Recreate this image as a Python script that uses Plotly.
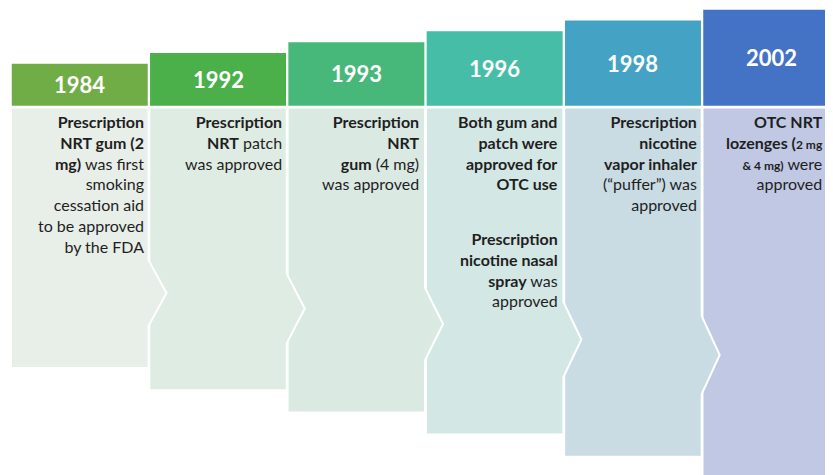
import plotly.graph_objects as go

# timeline data
years = ["1984", "1992", "1993", "1996", "1998", "2002"]
events = [
    "<b>Prescription</b><br><b>NRT gum (2</b><br><b>mg)</b> was first<br>smoking<br>cessation aid<br>to be approved<br>by the FDA",
    "<b>Prescription</b><br><b>NRT</b> patch<br>was approved",
    "<b>Prescription</b><br><b>NRT</b><br><b>gum</b> (4 mg)<br>was approved",
    "<b>Both gum and</b><br><b>patch were</b><br><b>approved for</b><br><b>OTC use</b>",
    "<b>Prescription</b><br><b>nicotine</b><br><b>vapor inhaler</b><br>(“puffer”) was<br>approved",
    "<b>OTC NRT</b><br><b>lozenges (<span style='font-size:12px'>2 mg</span></b><br><b><span style='font-size:12px'>&amp; 4 mg)</span></b> were<br>approved",
]
extra_events = {3: "<b>Prescription</b><br><b>nicotine nasal</b><br><b>spray</b> was<br>approved"}

header_colors = ["#70AD47", "#4BB04A", "#47B879", "#46BDA6", "#44A2C4", "#4472C4"]
body_colors = ["#E8EEE8", "#DFECE3", "#DBE9E3", "#D3E7E5", "#C9DBE3", "#C0C8E4"]

W, H = 833, 475
OFF = 8  # page body margin, figure starts at (8, 8)
fig = go.Figure()

step = 138.3
pw = 137.5
shapes = []
annotations = []

for i in reversed(range(len(years))):
    left = 11 + step * i
    right = left + pw
    htop = 63 - 10.8 * i
    hbot = 106.5
    btop = 107.5
    bbot = 368 + 22.2 * i
    cy = 293 + 15.5 * i
    hh = 33 + 1.5 * i

    shapes.append(dict(
        type="rect", x0=left, x1=right, y0=htop, y1=hbot,
        fillcolor=header_colors[i], line=dict(color="white", width=1.5), layer="above",
    ))
    if i < len(years) - 1:
        path = (f"M {left},{btop} L {right},{btop} L {right},{cy - hh} L {right + 18},{cy} "
                f"L {right},{cy + hh} L {right},{bbot} L {left},{bbot} Z")
    else:
        path = f"M {left},{btop} L {right},{btop} L {right},{bbot + 10} L {left},{bbot + 10} Z"
    shapes.append(dict(
        type="path", path=path, fillcolor=body_colors[i],
        line=dict(color="white", width=2), layer="above",
    ))

    annotations.append(dict(
        x=(left + right) / 2, y=(htop + hbot) / 2,
        text=f"<b>{years[i]}</b>", showarrow=False,
        font=dict(family="Lato, sans-serif", size=22, color="white"),
        xanchor="center", yanchor="middle",
    ))

    tx = min(right - 3, W - 8)
    annotations.append(dict(
        x=tx, y=110, text=events[i], showarrow=False, align="right",
        xanchor="right", yanchor="top",
        font=dict(family="Lato, sans-serif", size=16, color="#1F1F1F"),
    ))
    if i in extra_events:
        annotations.append(dict(
            x=tx, y=227, text=extra_events[i], showarrow=False, align="right",
            xanchor="right", yanchor="top",
            font=dict(family="Lato, sans-serif", size=16, color="#1F1F1F"),
        ))

fig.update_layout(
    width=W - OFF, height=H - OFF,
    margin=dict(l=0, r=0, t=0, b=0),
    plot_bgcolor="white", paper_bgcolor="white",
    xaxis=dict(range=[OFF, W], visible=False, fixedrange=True),
    yaxis=dict(range=[H, OFF], visible=False, fixedrange=True),
    shapes=shapes, annotations=annotations, showlegend=False,
)

fig.write_html("out.html")
